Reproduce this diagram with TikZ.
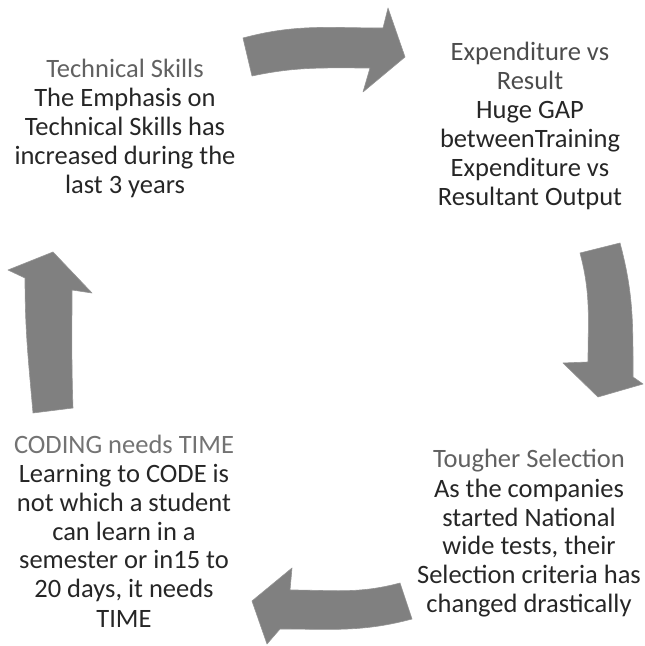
\documentclass[tikz,border=0pt]{standalone}
\usepackage{fontspec}
\setmainfont{Carlito}
\usepackage{tikz}
\usetikzlibrary{calc}

\begin{document}
\begin{tikzpicture}[x=1pt,y=1pt,
  blockarrow/.style={fill=black!50, draw=black!42, line width=0.6pt, line join=round},
  cycletext/.style={align=center, inner sep=0pt, anchor=base, text=black!85,
    font=\fontsize{26.5}{29}\selectfont}]

\useasboundingbox (0,0) rectangle (645,646);

\node[cycletext] (skills) at (125,452)
  {{\color{black!62}Technical Skills}\\The Emphasis on\\Technical Skills has\\increased during the\\last 3 years};
\node[cycletext] (result) at (530,440)
  {{\color{black!70}Expenditure vs}\\{\color{black!70}Result}\\Huge GAP\\betweenTraining\\Expenditure vs\\Resultant Output};
\node[cycletext] (selection) at (529,33)
  {{\color{black!62}Tougher Selection}\\As the companies\\started National\\wide tests, their\\Selection criteria has\\changed drastically};
\node[cycletext] (coding) at (124,19)
  {{\color{black!55}CODING needs TIME}\\Learning to CODE is\\not which a student\\can learn in a\\semester or in15 to\\20 days, it needs\\TIME};

\fill[blockarrow] (243,608) to [out=15,in=180] (383,618) -- (388,638) -- (405,589)
  -- (363,554) -- (370,578) to [out=180,in=12] (252,570) -- cycle;

\fill[blockarrow] (580,393) -- (620,403) to [out=-75,in=90] (633,269) -- (643,262)
  -- (598,249) -- (563,283) -- (588,284) to [out=90,in=-75] cycle;

\fill[blockarrow] (412,27) to [out=195,in=0] (280,17) -- (267,2) -- (252,45)
  -- (292,78) -- (290,56) to [out=0,in=195] (400,63) -- cycle;

\fill[blockarrow] (33,233) -- (73,238) to [out=92,in=-90] (72,356) -- (92,353)
  -- (53,394) -- (8,376) -- (25,368) to [out=-90,in=95] cycle;

\end{tikzpicture}
\end{document}
